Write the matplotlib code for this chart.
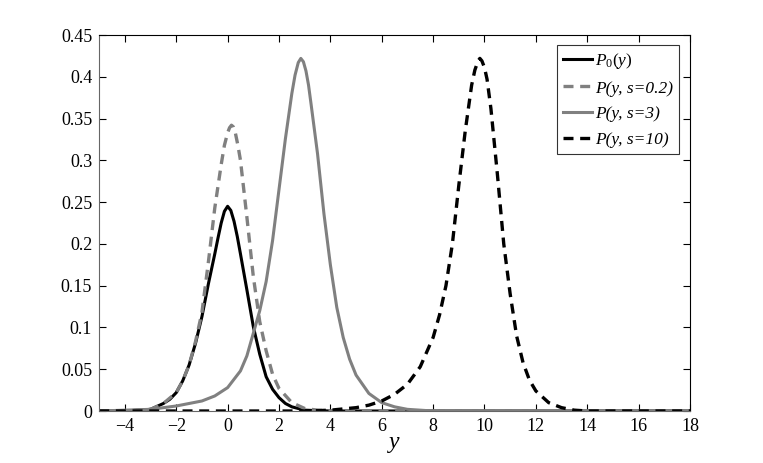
import matplotlib
matplotlib.use("Agg")
import matplotlib.pyplot as plt
from matplotlib.ticker import FuncFormatter

plt.rcParams['font.family'] = ['Liberation Serif', 'DejaVu Serif']
plt.rcParams['mathtext.fontset'] = 'custom'
plt.rcParams['mathtext.rm'] = 'Liberation Serif'
plt.rcParams['mathtext.it'] = 'Liberation Serif:italic'

# ---- data ----
x_p0 = [-5, -4, -3, -2.5, -2.25, -2, -1.75, -1.5, -1.25, -1, -0.75, -0.5, -0.375, -0.25, -0.125, 0,
        0.125, 0.25, 0.375, 0.5, 0.75, 1.0, 1.25, 1.5, 1.75, 2, 2.25, 2.5, 3, 4, 18]
y_p0 = [0, 0, 0.002, 0.009, 0.014, 0.022, 0.036, 0.055, 0.081, 0.113, 0.152, 0.188, 0.207, 0.225,
        0.239, 0.245, 0.240, 0.227, 0.209, 0.188, 0.145, 0.101, 0.068, 0.041, 0.026, 0.016, 0.009,
        0.005, 0.001, 0, 0]

x_s02 = [-5, -4, -3, -2.5, -2, -1.75, -1.5, -1.25, -1, -0.75, -0.5, -0.25, -0.125, 0, 0.075, 0.15,
         0.225, 0.3, 0.4, 0.5, 0.75, 1.0, 1.25, 1.5, 1.75, 2, 2.5, 3, 3.5, 4, 18]
y_s02 = [0, 0, 0.002, 0.009, 0.022, 0.036, 0.055, 0.083, 0.118, 0.178, 0.243, 0.295, 0.318, 0.333,
         0.339, 0.342, 0.340, 0.333, 0.318, 0.30, 0.232, 0.161, 0.107, 0.072, 0.044, 0.027, 0.01,
         0.003, 0.001, 0, 0]

x_s3 = [-5, -4, -3, -2, -1, -0.5, 0, 0.5, 0.75, 1.0, 1.25, 1.5, 1.75, 2.0, 2.25, 2.5, 2.625, 2.75,
        2.85, 2.95, 3.05, 3.15, 3.25, 3.5, 3.75, 4.0, 4.25, 4.5, 4.75, 5.0, 5.5, 6.0, 6.5, 7.0,
        8.0, 18]
y_s3 = [0, 0.001, 0.002, 0.006, 0.012, 0.018, 0.028, 0.048, 0.066, 0.093, 0.12, 0.155, 0.204, 0.265,
        0.326, 0.38, 0.402, 0.417, 0.422, 0.418, 0.407, 0.39, 0.367, 0.308, 0.236, 0.175, 0.124,
        0.088, 0.062, 0.043, 0.021, 0.010, 0.005, 0.002, 0, 0]

x_s10 = [-5, 3, 4, 5, 5.5, 6, 6.5, 7, 7.5, 8, 8.25, 8.5, 8.75, 9, 9.25, 9.5, 9.625, 9.75, 9.82,
         9.9, 10.0, 10.1, 10.25, 10.5, 10.75, 11, 11.25, 11.5, 11.75, 12, 12.5, 13, 13.5, 14, 18]
y_s10 = [0, 0, 0.001, 0.004, 0.007, 0.012, 0.02, 0.032, 0.053, 0.088, 0.115, 0.15, 0.20, 0.27,
         0.335, 0.39, 0.408, 0.419, 0.422, 0.419, 0.411, 0.397, 0.362, 0.284, 0.20, 0.14, 0.09,
         0.058, 0.037, 0.024, 0.01, 0.004, 0.001, 0, 0]

labels = [r'$\mathit{P_0(y)}$', 'P(y, s=0.2)', 'P(y, s=3)', 'P(y, s=10)']
xticks = [-4, -2, 0, 2, 4, 6, 8, 10, 12, 14, 16, 18]
yticks = [0, 0.05, 0.1, 0.15, 0.2, 0.25, 0.3, 0.35, 0.4, 0.45]

gray = (0.5, 0.5, 0.5)

fig = plt.figure(figsize=(7.63, 4.63), dpi=100)
ax = fig.add_axes([0.13, 0.1123, 0.7743, 0.8121])

ax.plot(x_p0, y_p0, color='black', lw=2.2, ls='-', label=labels[0])
ax.plot(x_s02, y_s02, color=gray, lw=2.4, ls=(0, (3, 2)), label=labels[1])
ax.plot(x_s3, y_s3, color=gray, lw=2.2, ls='-', label=labels[2])
ax.plot(x_s10, y_s10, color='black', lw=2.4, ls=(0, (3, 2)), label=labels[3])

ax.set_xlim(-5, 18)
ax.set_ylim(0, 0.45)
ax.set_xticks(xticks)
ax.set_yticks(yticks)
ax.yaxis.set_major_formatter(FuncFormatter(lambda v, p: '%g' % round(v, 2)))
ax.tick_params(direction='in', top=True, right=True, length=5, width=0.8,
               labelsize=13, pad=5, colors='black')
for s in ax.spines.values():
    s.set_linewidth(0.8)
ax.spines['left'].set_color('#666666')
ax.spines['bottom'].set_color('#666666')

ax.set_xlabel('y', fontsize=17, style='italic', labelpad=-2)

leg = ax.legend(loc='upper right', bbox_to_anchor=(0.981, 0.974), frameon=True,
                fancybox=False, edgecolor='black', handlelength=1.65, handletextpad=0.15,
                borderpad=0.35, borderaxespad=0, labelspacing=0.55,
                prop={'family': 'Liberation Serif', 'style': 'italic', 'size': 12.5})
leg.get_frame().set_linewidth(0.8)

fig.savefig('out.png', dpi=100)
